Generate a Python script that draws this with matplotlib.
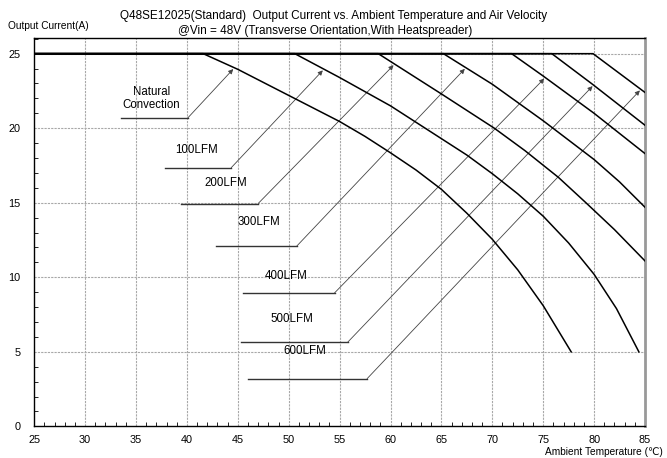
import matplotlib
matplotlib.use("Agg")
import numpy as np
import matplotlib.pyplot as plt
from matplotlib.ticker import MultipleLocator

plt.rcParams['font.family'] = ['Liberation Sans', 'DejaVu Sans', 'Noto Sans CJK SC']

# 曲線資料 (溫度 ℃, 輸出電流 A)
nc_t = [25, 41.6, 45, 50, 55, 57.5, 60, 62.5, 65, 67.5, 70, 72.5, 75, 77.75]
nc_i = [25, 25, 23.95, 22.2, 20.45, 19.45, 18.35, 17.2, 15.9, 14.3, 12.55, 10.5, 8.1, 5.0]
lfm100_t = [25, 50.6, 55, 60, 65, 67.5, 70, 72.5, 75, 77.5, 80, 82.2, 84.4]
lfm100_i = [25, 25, 23.4, 21.5, 19.3, 18.2, 16.95, 15.6, 14.1, 12.3, 10.2, 7.9, 5.0]
lfm200_t = [25, 58.8, 65, 70.2, 73.2, 76.5, 79.2, 82, 85]
lfm200_i = [25, 25, 22.3, 20.0, 18.5, 16.7, 15.0, 13.2, 11.1]
lfm300_t = [25, 65.2, 70, 75, 80, 82.5, 85]
lfm300_i = [25, 25, 22.95, 20.5, 17.9, 16.4, 14.7]
lfm400_t = [25, 71.9, 75, 80, 85]
lfm400_i = [25, 25, 23.5, 21.0, 18.3]
lfm500_t = [25, 75.85, 79.8, 85]
lfm500_i = [25, 25, 22.97, 20.2]
lfm600_t = [25, 79.9, 85]
lfm600_i = [25, 25, 22.4]

labels = ["Natural\nConvection", "100LFM", "200LFM", "300LFM", "400LFM", "500LFM", "600LFM"]
curves_t = [nc_t, lfm100_t, lfm200_t, lfm300_t, lfm400_t, lfm500_t, lfm600_t]
curves_i = [nc_i, lfm100_i, lfm200_i, lfm300_i, lfm400_i, lfm500_i, lfm600_i]

x_ticks = list(range(25, 90, 5))
y_ticks = list(range(0, 30, 5))

# 標註位置: 文字(x,y), 引線左端x, 轉折x, 引線y, 箭頭x
text_pos = [(36.5, 22.0), (40.9, 18.55), (43.8, 16.3), (47.1, 13.7), (49.8, 10.1), (50.35, 7.2), (51.6, 5.05)]
lead_x0 = [33.5, 37.85, 39.4, 42.9, 45.5, 45.3, 46.0]
lead_x1 = [40.1, 44.35, 47.0, 50.8, 54.5, 55.8, 57.7]
lead_y = [20.7, 17.35, 14.95, 12.1, 8.95, 5.65, 3.2]
tip_x = [44.55, 53.35, 60.3, 67.3, 75.1, 79.85, 84.5]

fig = plt.figure(figsize=(6.67, 4.58), dpi=100)
ax = fig.add_axes([0.0513, 0.069, 0.9157, 0.848])

grid_kw = dict(color="#a8a8a8", linestyle=(0, (2, 1)), linewidth=0.8, zorder=1)
for x in x_ticks[1:-1]:
    ax.axvline(x, **grid_kw)
for y in y_ticks[1:]:
    ax.axhline(y, **grid_kw)

for t, i in zip(curves_t, curves_i):
    ax.plot(t, i, color="black", linewidth=1.1, zorder=3)

for k, lab in enumerate(labels):
    tip_y = np.interp(tip_x[k], curves_t[k], curves_i[k]) - 0.12
    ax.plot([lead_x0[k], lead_x1[k]], [lead_y[k], lead_y[k]], color="#333333", linewidth=1.0, zorder=2)
    ax.annotate("", xy=(tip_x[k], tip_y), xytext=(lead_x1[k], lead_y[k]),
                arrowprops=dict(arrowstyle="-|>", color="#444444", lw=0.6,
                                mutation_scale=7, shrinkA=0, shrinkB=0), zorder=2)
    ax.text(text_pos[k][0], text_pos[k][1], lab, ha="center", va="center",
            fontsize=8.3, linespacing=1.05, zorder=4)

ax.set_xlim(25, 85)
ax.set_ylim(0, 26.05)
ax.set_xticks(x_ticks)
ax.set_yticks(y_ticks)
ax.xaxis.set_minor_locator(MultipleLocator(1))
ax.yaxis.set_minor_locator(MultipleLocator(1))
ax.tick_params(axis="both", which="both", direction="in", labelsize=7.8, color="black")
ax.tick_params(which="major", length=0)
ax.tick_params(which="minor", length=3, width=0.6)
ax.tick_params(axis="x", pad=6)
ax.tick_params(axis="y", pad=10)
ax.spines["right"].set_color("#999999")
ax.spines["right"].set_linewidth(2)
for s in ["left", "bottom", "top"]:
    ax.spines[s].set_linewidth(1.0)

fig.text(0.5, 0.965, "Q48SE12025(Standard)  Output Current vs. Ambient Temperature and Air Velocity",
         ha="center", va="center", fontsize=8.5)
fig.text(0.487, 0.933, "@Vin = 48V (Transverse Orientation,With Heatspreader)",
         ha="center", va="center", fontsize=8.5)
fig.text(0.012, 0.943, "Output Current(A)", ha="left", va="center", fontsize=7.3)
fig.text(0.993, 0.002, "Ambient Temperature (℃)", ha="right", va="bottom", fontsize=7.3)

plt.savefig("out.png", dpi=100)
plt.close()
